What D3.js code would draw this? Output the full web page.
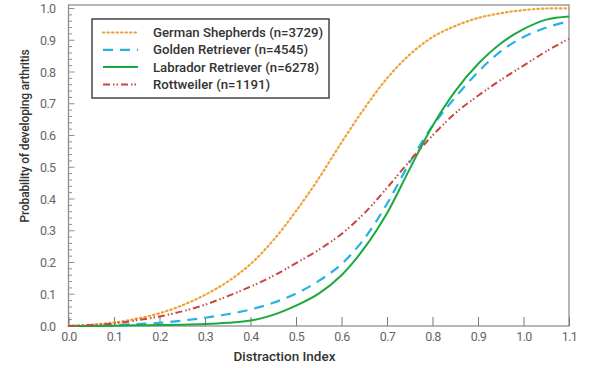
<!DOCTYPE html>
<html><head><meta charset="utf-8">
<script src="https://cdn.jsdelivr.net/npm/d3@7"></script>
<style>body{margin:0;background:#fff}svg{display:block}text{font-family:Roboto,"Noto Sans",sans-serif}</style>
</head><body><svg id="c" width="602" height="368"></svg>
<script>
const xs = [0,0.05,0.1,0.15,0.2,0.25,0.3,0.35,0.4,0.45,0.5,0.55,0.6,0.65,0.7,0.75,0.8,0.85,0.9,0.95,1.0,1.05,1.1];
const germanShepherd = [0,0.004,0.011,0.023,0.04,0.065,0.098,0.14,0.195,0.27,0.362,0.465,0.578,0.685,0.78,0.855,0.91,0.945,0.97,0.985,0.995,1.0,1.0];
const goldenRetriever = [0,0.001,0.003,0.006,0.01,0.017,0.026,0.037,0.052,0.073,0.102,0.142,0.195,0.275,0.385,0.515,0.63,0.72,0.80,0.865,0.91,0.94,0.96];
const labradorRetriever = [0,0.0,0.001,0.002,0.003,0.004,0.006,0.01,0.017,0.035,0.064,0.102,0.16,0.245,0.355,0.495,0.63,0.74,0.825,0.89,0.935,0.965,0.975];
const rottweiler = [0,0.003,0.008,0.018,0.03,0.046,0.067,0.094,0.124,0.158,0.198,0.24,0.29,0.355,0.435,0.52,0.60,0.67,0.725,0.775,0.82,0.865,0.905];
const seriesNames = ["German Shepherds (n=3729)","Golden Retriever (n=4545)","Labrador Retriever (n=6278)","Rottweiler (n=1191)"];
const xTicks = [0,0.1,0.2,0.3,0.4,0.5,0.6,0.7,0.8,0.9,1.0,1.1];
const yTicks = [0,0.1,0.2,0.3,0.4,0.5,0.6,0.7,0.8,0.9,1.0];
const xTitle = "Distraction Index";
const yTitle = "Probability of developing arthritis";

const colors = ["#eea23a","#27b1e4","#1aaa3c","#c8473c"];
const dashes = ["1.5,3","10,7",null,"7,3,1.5,2,1.5,3"];
const widths = [2.2,2.2,2,2];
const allSeries = [germanShepherd, goldenRetriever, labradorRetriever, rottweiler];

const svg = d3.select("#c");
const x = d3.scaleLinear().domain([0,1.1]).range([68.5,569]);
const y = d3.scaleLinear().domain([0,1]).range([326,8.5]);

// frame
svg.append("rect").attr("x",x(0)).attr("y",5).attr("width",x(1.1)-x(0)).attr("height",326-5)
  .attr("fill","none").attr("stroke","#8d8f94").attr("stroke-width",1.3);

// y minor ticks
const yMinor = d3.range(0,1.001,0.02);
svg.append("g").selectAll("line").data(yMinor).join("line")
  .attr("x1",x(0)).attr("x2",(d,i)=> i%5===0 ? x(0)+6 : x(0)+3.5)
  .attr("y1",d=>y(d)).attr("y2",d=>y(d)).attr("stroke","#8d8f94").attr("stroke-width",1);

// axes
const xAxis = d3.axisBottom(x).tickValues(xTicks).tickFormat(d3.format(".1f")).tickSizeInner(-9).tickSizeOuter(0).tickPadding(6);
const gx = svg.append("g").attr("transform","translate(0,326)").call(xAxis);
gx.select(".domain").remove();
gx.selectAll(".tick line").attr("stroke","#777").attr("stroke-width",1);
gx.selectAll("text").attr("fill","#666").attr("font-size",12.5).attr("letter-spacing","-0.6");

const yAxis = d3.axisLeft(y).tickValues(yTicks).tickFormat(d3.format(".1f")).tickSize(0).tickPadding(13);
const gy = svg.append("g").attr("transform",`translate(${x(0)},0)`).call(yAxis);
gy.select(".domain").remove();
gy.selectAll("text").attr("fill","#666").attr("font-size",12.5).attr("letter-spacing","-0.6");

// titles
svg.append("text").attr("x",284.5).attr("y",356).attr("dy","0.35em").attr("text-anchor","middle")
  .attr("font-size",13.5).attr("font-weight",500).attr("fill","#333").text(xTitle);
svg.append("text").attr("transform","translate(25,136) rotate(-90)").attr("dy","0.35em").attr("text-anchor","middle")
  .attr("font-size",12).attr("font-weight",500).attr("fill","#333").attr("letter-spacing","-0.15").text(yTitle);

// lines
const line = d3.line().x((d,i)=>x(xs[i])).y(d=>y(d)).curve(d3.curveCatmullRom.alpha(0.5));
allSeries.forEach((s,k)=>{
  svg.append("path").datum(s).attr("d",line).attr("fill","none")
    .attr("stroke",colors[k]).attr("stroke-width",widths[k])
    .attr("stroke-dasharray",dashes[k]).attr("stroke-linecap", k===0?"round":"butt");
});

// legend
const lg = svg.append("g");
lg.append("rect").attr("x",92).attr("y",19).attr("width",237).attr("height",79)
  .attr("fill","#fff").attr("stroke","#444").attr("stroke-width",1.5);
seriesNames.forEach((n,k)=>{
  const yy = 32.5 + k*17.3;
  lg.append("line").attr("x1",103).attr("x2",138).attr("y1",yy).attr("y2",yy)
    .attr("stroke",colors[k]).attr("stroke-width",widths[k]).attr("stroke-dasharray",dashes[k])
    .attr("stroke-linecap", k===0?"round":"butt");
  lg.append("text").attr("x",153).attr("y",yy).attr("dy","0.35em").attr("font-size",13.2)
    .attr("font-weight",500).attr("fill","#333").text(n);
});
</script></body></html>
